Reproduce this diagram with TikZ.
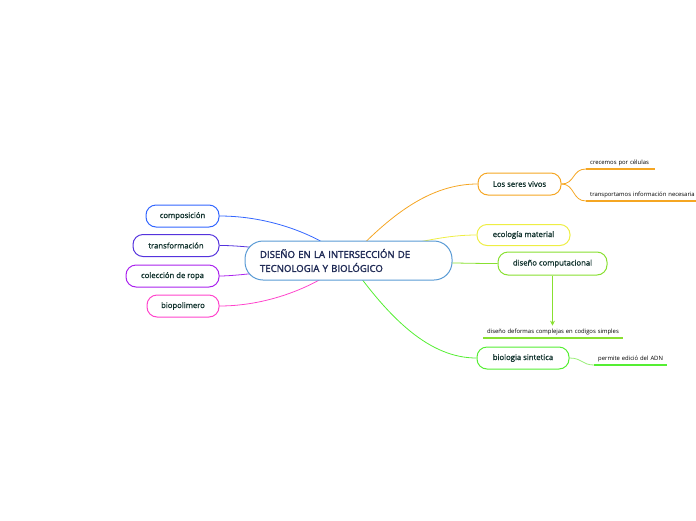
\documentclass[tikz,border=0pt]{standalone}
\usepackage{fontspec}
\setmainfont{Open Sans}
\newfontfamily\semib[FakeBold=1.2]{Open Sans}
\newfontfamily\semibb[FakeBold=2]{Open Sans}
\usetikzlibrary{arrows.meta}
\definecolor{txt}{HTML}{12332E}
\definecolor{navy}{HTML}{1F2A55}
\definecolor{cblue}{HTML}{5A9BD5}
\definecolor{ccomp}{HTML}{3366FF}
\definecolor{ctrans}{HTML}{5533DD}
\definecolor{ccol}{HTML}{AA22EE}
\definecolor{cbio}{HTML}{FF44CC}
\definecolor{corange}{HTML}{F5A623}
\definecolor{cyellow}{HTML}{EEEE44}
\definecolor{clime}{HTML}{88E030}
\definecolor{cgreen}{HTML}{55EE33}
\definecolor{cltgreen}{HTML}{99EE77}
\tikzset{
  topic/.style={draw, line width=1pt, fill=white, rounded corners=10pt, minimum height=22pt, inner xsep=10pt, text=txt, font=\semib\fontsize{7.7}{9}\selectfont},
  sub/.style={anchor=south west, inner xsep=4pt, inner ysep=3pt, align=left, text=black, font=\fontsize{5.9}{7}\selectfont},
  conn/.style={line width=0.8pt},
  uline/.style={line width=1.2pt}
}
\begin{document}
\begin{tikzpicture}[x=1pt,y=-1pt]
\useasboundingbox (0,0) rectangle (696,520);
\coordinate (cc) at (348,260);
% left nodes
\node[topic, draw=ccomp, minimum width=73pt] (comp) at (182.5,216) {composición};
\node[topic, draw=ctrans, minimum width=86pt] (trans) at (176,245.5) {transformación};
\node[topic, draw=ccol, minimum width=93pt] (col) at (172.5,276) {colección de ropa};
\node[topic, draw=cbio, minimum width=72pt] (biop) at (183,306) {biopolimero};
% right nodes
\node[topic, draw=corange, minimum width=83pt] (seres) at (519.5,184) {Los seres vivos};
\node[topic, draw=cyellow, minimum width=93pt, minimum height=21pt] (eco) at (523.5,235) {ecología material};
\node[topic, draw=clime, minimum width=109pt, minimum height=23pt] (dc) at (552.5,263.5) {diseño computacional};
\node[topic, draw=cgreen, minimum width=92pt] (bs) at (523,358) {biologia sintetica};
% sub nodes
\node[sub, text width=61pt] (crec) at (586,169) {\mbox{crecemos por células}};
\node[sub, text width=102pt] (transp) at (586,201) {\mbox{transportamos información necesaria}};
\node[sub, text width=132pt] (dd) at (483,338) {\mbox{diseño deformas complejas en codigos simples}};
\node[sub, text width=65pt] (perm) at (594,365) {\mbox{permite edició del ADN}};
% underlines
\draw[uline, corange] (crec.south west) -- (crec.south east);
\draw[uline, corange] (transp.south west) -- (transp.south east);
\draw[uline, clime] (dd.south west) -- (dd.south east);
\draw[uline, cgreen] (perm.south west) -- (perm.south east);
% connectors to center
\draw[conn, ccomp] (comp.east) .. controls (270,216) and (320,235) .. (cc);
\draw[conn, ctrans] (trans.east) .. controls (240,245) and (300,252) .. (cc);
\draw[conn, ccol] (col.east) .. controls (240,276) and (300,268) .. (cc);
\draw[conn, cbio] (biop.east) .. controls (270,306) and (320,285) .. (cc);
\draw[conn, corange] (cc) .. controls (390,215) and (430,184) .. (seres.west);
\draw[conn, cyellow] (cc) .. controls (420,240) and (450,235) .. (eco.west);
\draw[conn, clime] (cc) .. controls (420,262) and (460,263.5) .. (dc.west);
\draw[conn, cgreen] (cc) .. controls (390,320) and (430,358) .. (bs.west);
% sub connectors
\draw[conn, corange] (seres.east) .. controls (575,184) and (572,169) .. (crec.south west);
\draw[conn, corange] (seres.east) .. controls (575,184) and (572,201) .. (transp.south west);
\draw[conn, cltgreen] (bs.east) .. controls (582,358) and (582,365) .. (perm.south west);
\draw[conn, clime, -{Stealth[length=5pt,width=5pt]}] (dc.south) -- (dd.north -| dc.south);
% central node
\node[draw=cblue, line width=1pt, fill=white, rounded corners=18pt, minimum width=207pt, minimum height=39pt, text width=177pt, align=left, text=navy, font=\semibb\fontsize{9.6}{14}\selectfont] (center) at (348.5,260.5) {DISEÑO EN LA INTERSECCIÓN DE\\TECNOLOGIA Y BIOLÓGICO};
\end{tikzpicture}
\end{document}
